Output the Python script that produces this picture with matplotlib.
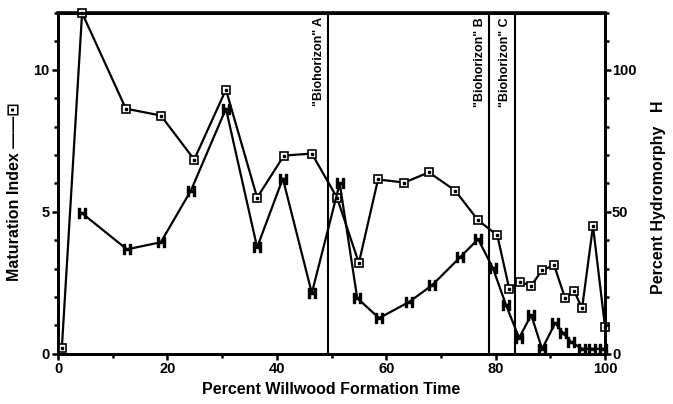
import matplotlib
matplotlib.use("Agg")
import matplotlib.pyplot as plt
import numpy as np

plt.rcParams['font.family'] = ['Liberation Sans', 'DejaVu Sans']
plt.rcParams['font.weight'] = 'bold'

# Maturation index (squares, left axis)
mat_x = [0.7, 4.4, 12.4, 18.8, 24.9, 30.7, 36.4, 41.3, 46.4, 51.0, 55.0, 58.5,
         63.3, 67.8, 72.6, 76.8, 80.3, 82.5, 84.5, 86.5, 88.5, 90.7, 92.7, 94.4,
         95.8, 97.8, 100.0]
mat_y = [0.2, 12.0, 8.63, 8.39, 6.84, 9.3, 5.5, 6.98, 7.05, 5.5, 3.2, 6.14,
         6.03, 6.39, 5.75, 4.7, 4.18, 2.28, 2.53, 2.4, 2.95, 3.12, 1.96, 2.2,
         1.6, 4.5, 0.95]

# Percent hydromorphy (H, right axis)
hyd_x = [4.4, 12.6, 18.8, 24.3, 30.7, 36.4, 41.1, 46.4, 51.5, 54.7, 58.7, 64.2,
         68.4, 73.5, 76.8, 79.5, 81.9, 84.3, 86.5, 88.5, 90.9, 92.3, 93.8, 95.8,
         97.6, 99.6]
hyd_y = [49.5, 36.8, 39.3, 57.5, 86.3, 37.5, 61.7, 21.4, 60.0, 19.6, 12.6, 18.3,
         24.2, 34.0, 40.4, 30.2, 17.2, 5.6, 13.7, 1.75, 10.9, 7.4, 4.2, 1.8,
         1.8, 1.8]

# biohorizon positions
horizons = {'A': 49.4, 'B': 78.8, 'C': 83.5}

fig = plt.figure(figsize=(6.73, 4.04), dpi=100)
ax = fig.add_axes([0.0862, 0.124, 0.8128, 0.844])
ax2 = ax.twinx()

ax.plot(mat_x, mat_y, color='black', lw=1.6, marker='s', ms=5.5,
        mfc='white', mec='black', mew=1.2, zorder=3, clip_on=False)
ax.plot(mat_x, mat_y, ls='none', marker='s', ms=1.6, color='black', zorder=4, clip_on=False)

ax2.plot(hyd_x, hyd_y, color='black', lw=1.6, zorder=3)
ax2.plot(hyd_x, hyd_y, ls='none', marker='$\\mathbf{H}$', ms=6.5, color='black', zorder=4,
         clip_on=False)

for name, xv in horizons.items():
    ax.axvline(xv, color='black', lw=1.5, zorder=2)
    ax.text(xv - 0.6, 11.85, '"Biohorizon" ' + name, rotation=90, ha='right', va='top',
            fontsize=9, fontweight='bold')

ax.set_xlim(0, 100)
ax.set_ylim(0, 12)
ax2.set_ylim(0, 120)

ax.set_xticks([0, 20, 40, 60, 80, 100])
ax.set_xticks(np.arange(0, 101, 10), minor=True)
ax.set_yticks([0, 5, 10])
ax.set_yticks(np.arange(0, 13, 1), minor=True)
ax2.set_yticks([0, 50, 100])
ax2.set_yticks(np.arange(0, 121, 10), minor=True)

for a in (ax, ax2):
    a.tick_params(which='both', direction='out', width=1.8, labelsize=10.5)
    a.tick_params(which='major', length=4)
    a.tick_params(which='minor', length=3)
    for s in a.spines.values():
        s.set_linewidth(2.0)
ax.spines['top'].set_linewidth(2.6)
ax.tick_params(axis='both', pad=2)
ax2.tick_params(axis='y', pad=1)

for lab in ax.get_xticklabels() + ax.get_yticklabels() + ax2.get_yticklabels():
    lab.set_fontweight('bold')

ax.set_xlabel('Percent Willwood Formation Time', fontsize=11.5, fontweight='bold', labelpad=4)
ax.set_ylabel('Maturation Index \u2014\u2014\u22a1', fontsize=11.5, fontweight='bold')
ax.yaxis.set_label_coords(-0.066, 0.475)
ax2.set_ylabel('Percent Hydromorphy   H', fontsize=11.5, fontweight='bold')
ax2.yaxis.set_label_coords(1.084, 0.46)

fig.savefig('out.png', dpi=100)
